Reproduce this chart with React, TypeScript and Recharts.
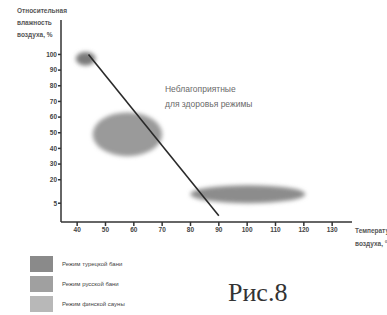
import React from "react";
import {
  ComposedChart,
  XAxis,
  YAxis,
  ReferenceArea,
  ReferenceLine,
  ReferenceDot,
} from "recharts";

const xTicks = [40, 50, 60, 70, 80, 90, 100, 110, 120, 130];
const yTicks = [5, 20, 30, 40, 50, 60, 70, 80, 90, 100];

// regimes: name, x range, y range, colour
const regimeNames = ["Режим турецкой бани", "Режим русской бани", "Режим финской сауны"];
const regimeX1 = [39.5, 45.5, 80];
const regimeX2 = [46.5, 70, 120.5];
const regimeY1 = [93, 35, 5];
const regimeY2 = [101.5, 63, 16.5];
const regimeFill = ["#7a7a7a", "#9a9a9a", "#8c8c8c"];
const legendFill = ["#8a8a8a", "#a0a0a0", "#b8b8b8"];

const boundary = [
  { x: 44, y: 100 },
  { x: 90, y: -3 },
];

const annotationLines = ["Неблагоприятные", "для здоровья режимы"];
const annotationAt = { x: 71, y: 76 };

const EllipseShape = (props: any) => {
  const { x, y, width, height, fill } = props;
  return (
    <ellipse
      cx={x + width / 2}
      cy={y + height / 2}
      rx={Math.abs(width) / 2}
      ry={Math.abs(height) / 2}
      fill={fill}
      filter="url(#blurE)"
    />
  );
};

const AnnotationLabel = (props: any) => {
  const { viewBox } = props;
  const cx = viewBox?.cx ?? viewBox?.x ?? 0;
  const cy = viewBox?.cy ?? viewBox?.y ?? 0;
  return (
    <text
      x={cx}
      y={cy}
      fill="#6a6a6a"
      fontSize={8.5}
      fontFamily="Liberation Sans Narrow, Arial, sans-serif"
    >
      {annotationLines.map((l, i) => (
        <tspan key={i} x={cx} dy={i === 0 ? 0 : 15}>
          {l}
        </tspan>
      ))}
    </text>
  );
};

const tickStyle = {
  fontSize: 6.5,
  fill: "#444",
  fontFamily: "Liberation Sans Narrow, Arial, sans-serif",
  fontWeight: 700,
};

export default function App() {
  return (
    <div
      style={{
        position: "absolute",
        left: 0,
        top: 0,
        width: 387,
        height: 315,
        background: "#fff",
        overflow: "hidden",
      }}
    >
      <svg width={0} height={0} style={{ position: "absolute" }}>
        <defs>
          <filter id="blurE" x="-30%" y="-60%" width="160%" height="220%">
            <feGaussianBlur stdDeviation="2.2" />
          </filter>
        </defs>
      </svg>
      <ComposedChart
        width={387}
        height={315}
        data={boundary}
        margin={{ top: 20, right: 35, bottom: 63, left: 20 }}
      >
        <XAxis
          dataKey="x"
          type="number"
          domain={[34.3, 137]}
          ticks={xTicks}
          allowDataOverflow
          tickSize={4}
          height={30}
          stroke="#333"
          strokeWidth={1.5}
          tick={tickStyle}
          tickMargin={1}
          interval={0}
        />
        <YAxis
          type="number"
          domain={[-7, 122]}
          ticks={yTicks}
          allowDataOverflow
          width={41}
          tickSize={3}
          stroke="#333"
          strokeWidth={1.5}
          tick={tickStyle}
          tickMargin={1}
          interval={0}
        />
        {regimeNames.map((n, i) => (
          <ReferenceArea
            key={n}
            x1={regimeX1[i]}
            x2={regimeX2[i]}
            y1={regimeY1[i]}
            y2={regimeY2[i]}
            fill={regimeFill[i]}
            shape={<EllipseShape />}
            ifOverflow="visible"
          />
        ))}
        <ReferenceLine
          segment={boundary}
          stroke="#2a2a2a"
          strokeWidth={1.6}
          ifOverflow="visible"
        />
        <ReferenceDot
          x={annotationAt.x}
          y={annotationAt.y}
          r={0}
          fill="none"
          stroke="none"
          ifOverflow="visible"
          label={<AnnotationLabel />}
        />
      </ComposedChart>

      {/* Y axis title */}
      <div
        style={{
          position: "absolute",
          left: 17,
          top: 5,
          fontFamily: "Liberation Sans Narrow, Arial, sans-serif",
          fontSize: 6.5,
          fontWeight: 700,
          color: "#555",
          lineHeight: "12px",
        }}
      >
        Относительная
        <br />
        влажность
        <br />
        воздуха, %
      </div>

      {/* X axis title */}
      <div
        style={{
          position: "absolute",
          left: 355,
          top: 224,
          fontFamily: "Liberation Sans Narrow, Arial, sans-serif",
          fontSize: 6.5,
          fontWeight: 700,
          color: "#555",
          lineHeight: "13px",
          whiteSpace: "nowrap",
        }}
      >
        Температура
        <br />
        воздуха, °С
      </div>

      {/* Legend */}
      {regimeNames.map((n, i) => (
        <div
          key={n}
          style={{
            position: "absolute",
            left: 30,
            top: 256 + i * 20,
            display: "flex",
            alignItems: "center",
          }}
        >
          <div style={{ width: 23, height: 16, background: legendFill[i] }} />
          <span
            style={{
              marginLeft: 9,
              fontFamily: "Liberation Sans Narrow, Arial, sans-serif",
              fontSize: 6,
              color: "#444",
              whiteSpace: "nowrap",
            }}
          >
            {n}
          </span>
        </div>
      ))}

      <div
        style={{
          position: "absolute",
          left: 228,
          top: 280,
          fontFamily: "Liberation Serif, Times New Roman, serif",
          fontSize: 26,
          color: "#333",
          lineHeight: "26px",
        }}
      >
        Рис.8
      </div>
    </div>
  );
}
